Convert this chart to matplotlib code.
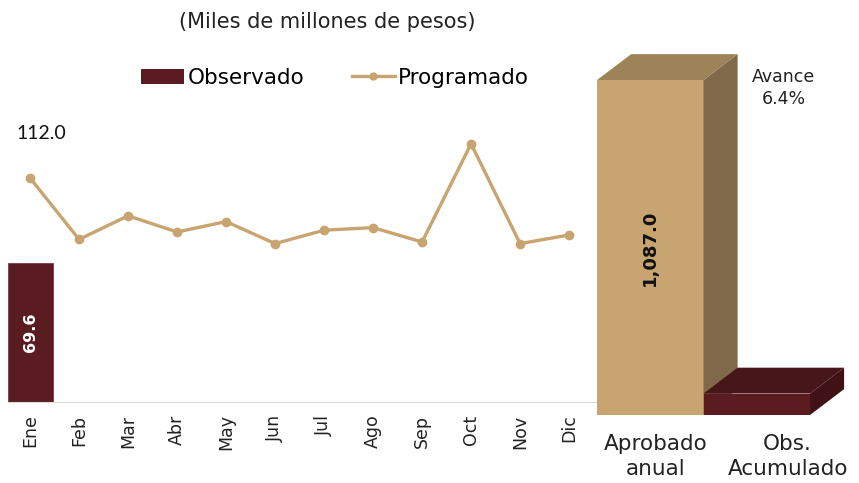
import matplotlib.pyplot as plt
from matplotlib.patches import Polygon, Patch
from matplotlib.lines import Line2D

# monthly data (miles de millones de pesos)
meses = ["Ene", "Feb", "Mar", "Abr", "May", "Jun", "Jul", "Ago", "Sep", "Oct", "Nov", "Dic"]
observado = [69.6]
programado = [112.0, 81.3, 93.1, 85.0, 90.2, 79.2, 85.9, 87.2, 80.0, 129.1, 79.2, 83.5]

# annual comparison
categorias = ["Aprobado\nanual", "Obs.\nAcumulado"]
anual = [1087.0, 69.6]

TAN = "#C8A470"
MAROON = "#5A1C20"
FACE = {0: (TAN, "#80684A", "#9D8358"), 1: (MAROON, "#3E1216", "#46161A")}
LABEL_DX = [0.05, 0.29]
FONT = "DejaVu Sans"

fig = plt.figure(figsize=(8.59, 4.83), dpi=100)

# ---- left panel: monthly bars + programmed line
axL = fig.add_axes([8 / 859, 1 - 402 / 483, 589 / 859, 302 / 483])
x = list(range(len(meses)))
axL.bar(x[:len(observado)], observado, width=0.92, color=MAROON, edgecolor="#7a3a3e", lw=0.6, zorder=2)
axL.plot(x, programado, color=TAN, lw=2.4, marker="o", ms=6, zorder=3)
axL.set_xlim(-0.45, 11.57)
axL.set_ylim(0, 151)
for s in ["top", "right", "left"]:
    axL.spines[s].set_visible(False)
axL.spines["bottom"].set_color("#D9D9D9")
axL.set_yticks([])
axL.set_xticks(x)
axL.set_xticklabels(meses, rotation=90, fontsize=12.5, family=FONT, color="#222222")
axL.tick_params(axis="x", length=0, pad=9)

axL.annotate(f"{programado[0]:.1f}", (0, programado[0]), xytext=(8, 32), textcoords="offset points",
             ha="center", va="center", fontsize=14, family="Lato", color="#111111")
for i, v in enumerate(observado):
    axL.text(i, v / 2, f"{v:.1f}", rotation=90, ha="center", va="center", color="white",
             fontsize=11.5, fontweight="bold", family=FONT)

fig.text(327 / 859, 1 - 22 / 483, "(Miles de millones de pesos)", ha="center", va="center",
         fontsize=15, family=FONT, color="#222222")
handles = [Patch(facecolor=MAROON), Line2D([], [], color=TAN, lw=2.4, marker="o", ms=5)]
fig.legend(handles, ["Observado", "Programado"], loc="center", bbox_to_anchor=(335 / 859, 1 - 78 / 483),
           ncol=2, frameon=False, prop={"family": FONT, "size": 15.5}, handlelength=2.0,
           handletextpad=0.15, columnspacing=2.2)

# ---- right panel: pseudo-3D bars
axR = fig.add_axes([590 / 859, 1 - 415 / 483, 269 / 859, 375 / 483])
axR.set_xlim(-0.566, 1.96)
axR.set_ylim(0, 1217)
axR.axis("off")
dx, dy = 0.32, 84
for i, v in enumerate(anual):
    front, side, top = FACE[i]
    axR.bar(i, v, width=1.0, color=front, lw=0, zorder=2 + i)
    l, r = i - 0.5, i + 0.5
    axR.add_patch(Polygon([(r, 0), (r + dx, dy), (r + dx, v + dy), (r, v)], closed=True,
                          facecolor=side, lw=0, zorder=2 + i))
    axR.add_patch(Polygon([(l, v), (r, v), (r + dx, v + dy), (l + dx, v + dy)], closed=True,
                          facecolor=top, lw=0, zorder=2 + i))
    axR.text(i + LABEL_DX[i], -62, categorias[i], ha="center", va="top", fontsize=15.5, family=FONT,
             color="#222222", linespacing=1.3)

axR.text(0, anual[0] * 0.5, f"{anual[0]:,.1f}", rotation=90, ha="center", va="center",
         fontsize=13, fontweight="bold", family=FONT, color="#111111", zorder=5)
axR.text(1.25, anual[0] - 25, f"Avance\n{100 * anual[1] / anual[0]:.1f}%", ha="center", va="center",
         fontsize=12.5, family=FONT, color="#222222", linespacing=1.3)

fig.savefig("out.png", dpi=100)
